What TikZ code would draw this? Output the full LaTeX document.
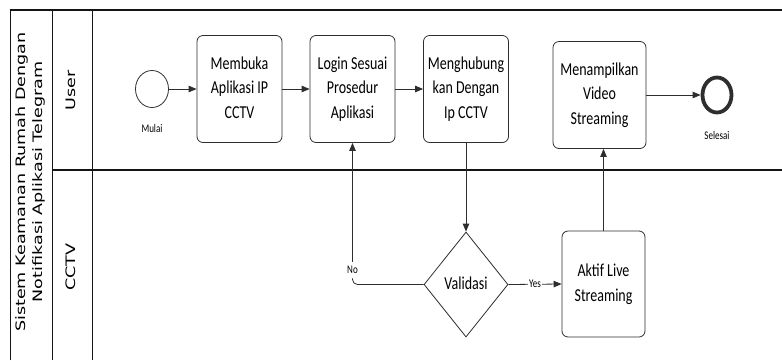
\documentclass[tikz,border=0pt]{standalone}
\usepackage{fontspec}
\setmainfont{Carlito}
\newfontfamily\lanefont{DejaVu Sans}
\usepackage{tikz}
\usetikzlibrary{
  arrows.meta,
  positioning,
  shapes.geometric
}
\definecolor{SwimLine}{HTML}{151515}
\definecolor{SwimBox}{HTML}{2E2E2E}
% text a bit taller than wide, as in the drawing
\newcommand{\tallt}[1]{\scalebox{1}[1.3]{\begin{tabular}{@{}c@{}}#1\end{tabular}}}
\newcommand{\widet}[1]{\scalebox{1.35}[1]{\begin{tabular}{@{}c@{}}#1\end{tabular}}}

\begin{document}
\begin{tikzpicture}[
  x=1pt, y=-1pt,
  lane/.style={draw=SwimLine,line width=0.9pt},
  lanetext/.style={rotate=90,inner sep=0pt,
    font=\lanefont\fontsize{13}{17}\selectfont},
  task/.style={draw=SwimBox,line width=0.8pt,rounded corners=6pt,
    minimum width=85pt,minimum height=107pt,inner sep=1pt,
    font=\fontsize{14}{19}\selectfont},
  event/.style={draw=SwimBox,ellipse,line width=0.8pt,inner sep=0pt},
  gate/.style={draw=SwimBox,diamond,line width=0.8pt,inner sep=0pt,
    minimum width=84pt,minimum height=105pt,
    font=\fontsize{14}{19}\selectfont},
  small/.style={inner sep=1pt,font=\fontsize{9}{11}\selectfont},
  flow/.style={draw=SwimBox,line width=0.8pt,
    -{Triangle[length=8pt,width=6.5pt]}}
]
\useasboundingbox (0,0) rectangle (782,360);

% pool and lanes
\draw[lane] (10,360) -- (10,10);
\draw[lane,line width=1.6pt] (9.5,10) -- (782,10);
\draw[lane] (52,10) -- (52,360);
\draw[lane] (92,10) -- (92,360);
\draw[lane,line width=1.2pt] (52,170) -- (782,170);
\node[lanetext] (pool) at (31,182)
  {\widet{Sistem Keamanan Rumah Dengan\\Notifikasi Aplikasi Telegram}};
\node[lanetext] (userLane) at (72,90) {\widet{User}};
\node[lanetext] (cctvLane) at (72,267) {\widet{CCTV}};

% user lane
\node[event,minimum width=33pt,minimum height=37pt] (mulai) at (152,89) {};
\node[small] (mulaiLbl) at (152,130) {\tallt{Mulai}};
\node[task] (buka) at (239.5,89) {\tallt{Membuka\\Aplikasi IP\\CCTV}};
\node[task] (login) at (352.5,89) {\tallt{Login Sesuai\\Prosedur\\Aplikasi}};
\node[task] (hubung) at (466,89) {\tallt{Menghubung\\kan Dengan\\Ip CCTV}};
\node[task,minimum width=93pt] (tampil) at (599.5,95)
  {\tallt{Menampilkan\\Video\\Streaming}};
\node[event,line width=3.8pt,minimum width=29pt,minimum height=35pt]
  (selesai) at (717,95) {};
\node[small] (selesaiLbl) at (717,137) {\tallt{Selesai}};

% cctv lane
\node[gate] (validasi) at (466,284.5) {\tallt{Validasi}};
\node[task,minimum width=83pt,minimum height=106pt] (aktif) at (603.5,284)
  {\tallt{Aktif Live\\Streaming}};

\draw[flow] (mulai) -- (buka);
\draw[flow] (buka) -- (login);
\draw[flow] (login) -- (hubung);
\draw[flow] (hubung) -- (validasi);
\draw[flow] (validasi.east) -- node[small,fill=white] (yesLbl) {\tallt{Yes}} (aktif.west);
\draw[flow,rounded corners=5pt] (validasi.west) -| node[small,fill=white,pos=0.55] (noLbl) {\tallt{No}} (login.south);
\draw[flow] (aktif.north) -- (aktif.north |- tampil.south);
\draw[flow] (tampil) -- (selesai);
\end{tikzpicture}
\end{document}
